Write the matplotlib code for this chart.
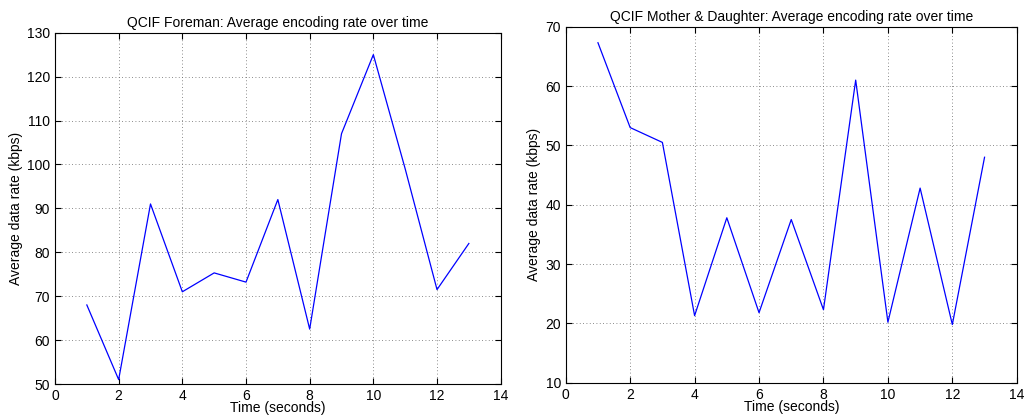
import numpy as np
import matplotlib
matplotlib.use('Agg')
import matplotlib.pyplot as plt

plt.rcParams['font.family'] = ['Liberation Sans', 'DejaVu Sans']

# data
time_s = [1, 2, 3, 4, 5, 6, 7, 8, 9, 10, 11, 12, 13]
foreman_rate = [68, 51, 91, 71, 75.3, 73.2, 92, 62.5, 107, 125, 99, 71.5, 82]
mother_rate = [67.3, 53, 50.5, 21.3, 37.8, 21.8, 37.5, 22.3, 61, 20.2, 42.8, 19.8, 48]

titles = ['QCIF Foreman: Average encoding rate over time',
          'QCIF Mother & Daughter: Average encoding rate over time']
x_ticks = [0, 2, 4, 6, 8, 10, 12, 14]
foreman_yticks = [50, 60, 70, 80, 90, 100, 110, 120, 130]
mother_yticks = [10, 20, 30, 40, 50, 60, 70]

fig = plt.figure(figsize=(10.26, 4.2), dpi=100)
ax1 = fig.add_axes([0.0536, 0.0857, 0.4344, 0.8365])
ax2 = fig.add_axes([0.5514, 0.0888, 0.4396, 0.8476])


def style_axis(ax, y, yticks, title):
    ax.plot(time_s, y, color='#0000ff', linewidth=0.9)
    ax.set_xlim(0, 14)
    ax.set_ylim(yticks[0], yticks[-1])
    ax.set_xticks(x_ticks)
    ax.set_yticks(yticks)
    ax.grid(True, linestyle=(0, (1, 3)), color='#666666', linewidth=0.6)
    ax.tick_params(direction='in', top=True, right=True, labelsize=10, length=4)
    for s in ax.spines.values():
        s.set_linewidth(0.8)
    ax.set_title(title, fontsize=10, pad=4)
    ax.set_xlabel('Time (seconds)', fontsize=10, labelpad=-1)
    ax.set_ylabel('Average data rate (kbps)', fontsize=10, labelpad=3)


style_axis(ax1, foreman_rate, foreman_yticks, titles[0])
style_axis(ax2, mother_rate, mother_yticks, titles[1])

fig.savefig('out.png', dpi=100)
